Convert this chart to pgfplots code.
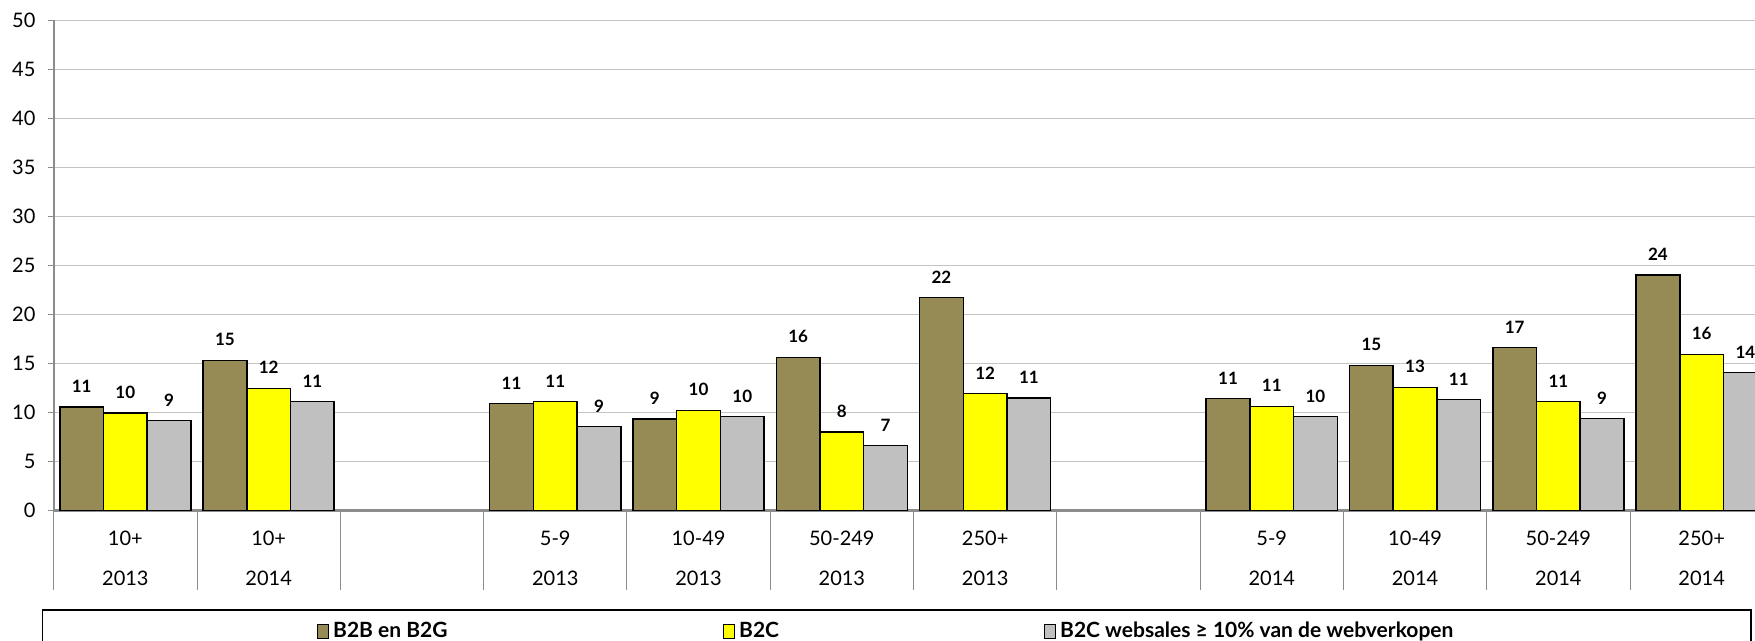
\documentclass[border=0pt]{standalone}
\usepackage{pgfplots}
\pgfplotsset{compat=1.18}
\usepackage{pgfplotstable}
\usepackage{fontspec}
\setmainfont{Lato}

\definecolor{b2bcol}{HTML}{968A55}
\definecolor{b2ccol}{HTML}{FFFF00}
\definecolor{webcol}{HTML}{C0C0C0}
\definecolor{gridcol}{HTML}{C4C4C4}
\definecolor{axiscol}{HTML}{8C8C8C}

% x: category position (2 and 7 are empty spacer categories)
\pgfplotstableread{
x   b2b    b2c    web
0   10.55  9.94   9.14
1   15.30  12.45  11.10
3   10.90  11.10  8.55
4   9.30   10.20  9.55
5   15.60  8.00   6.60
6   21.70  11.90  11.45
8   11.40  10.60  9.55
9   14.80  12.55  11.30
10  16.60  11.10  9.35
11  24.00  15.90  14.05
}\salesdata

\begin{document}
\begin{tikzpicture}[x=1pt,y=1pt]
\useasboundingbox (0,0) rectangle (877.5,320.5);
\clip (0,0) rectangle (877.5,320.5);
\begin{axis}[
  at={(26.85pt,65.35pt)}, anchor=south west,
  scale only axis, width=859.8pt, height=245pt,
  xmin=-0.5, xmax=11.5, ymin=0, ymax=50,
  ybar=0pt, bar width=0.305,
  axis x line*=bottom, axis y line*=left,
  x axis line style={draw=axiscol, line width=1.3pt, -},
  y axis line style={draw=axiscol, line width=0.9pt, -},
  ymajorgrids, grid style={draw=gridcol, line width=0.6pt},
  ytick={0,5,...,50},
  tick align=outside, major tick length=2.8pt,
  ytick style={draw=axiscol, line width=0.6pt},
  yticklabel style={font=\fontsize{10}{12}\selectfont, xshift=-2.8pt},
  /pgf/number format/assume math mode=true,
  xtick={0,1,...,11},
  xticklabels={{10+\\[8pt]2013},{10+\\[8pt]2014},{},{5-9\\[8pt]2013},{10-49\\[8pt]2013},{50-249\\[8pt]2013},{250+\\[8pt]2013},{},{5-9\\[8pt]2014},{10-49\\[8pt]2014},{50-249\\[8pt]2014},{250+\\[8pt]2014}},
  xticklabel style={font=\fontsize{10}{12}\selectfont, align=center, anchor=north, yshift=-4.2pt},
  xtick style={draw=none},
  extra x ticks={-0.5,0.5,...,11.5},
  extra x tick labels={},
  extra x tick style={major tick length=39.7pt, xtick style={draw=axiscol, line width=0.5pt}},
  nodes near coords,
  nodes near coords style={font=\bfseries\fontsize{8.5}{10}\selectfont, yshift=3.5pt,
    /pgf/number format/.cd, fixed, precision=0, assume math mode=true},
  legend columns=3,
  legend image code/.code={\draw[#1,draw=black,line width=0.5pt] (0pt,-3.5pt) rectangle (5.5pt,3.5pt);},
  legend style={at={(0.1495,-0.2471)}, anchor=west, draw=none, fill=none,
    font=\bfseries\fontsize{10.5}{12}\selectfont,
    /tikz/every even column/.append style={column sep=0pt}},
]
\addplot[fill=b2bcol, draw=black, line width=0.75pt] table[x=x, y=b2b] {\salesdata};
\addplot[fill=b2ccol, draw=black, line width=0.75pt] table[x=x, y=b2c] {\salesdata};
\addplot[fill=webcol, draw=black, line width=0.75pt] table[x=x, y=web] {\salesdata};
\legend{\makebox[193pt][l]{B2B en B2G}, \makebox[150.5pt][l]{B2C}, B2C websales ≥ 10\% van de webverkopen}
\end{axis}
% frame round the legend
\draw[black, line width=0.8pt] (21.3,-5) rectangle (875.5,15.5);
\end{tikzpicture}
\end{document}
